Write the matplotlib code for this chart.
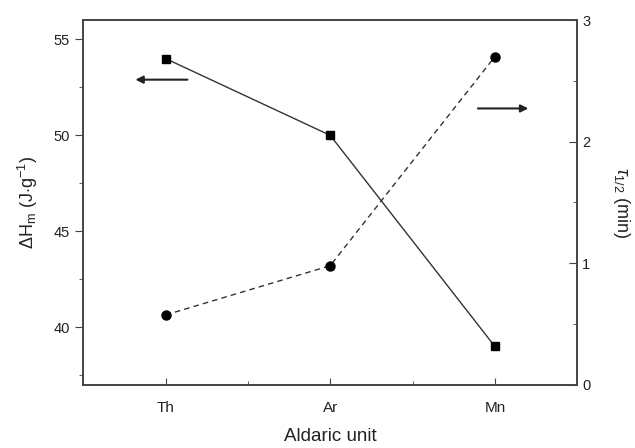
import matplotlib
matplotlib.use("Agg")
import matplotlib.pyplot as plt
from matplotlib.ticker import MultipleLocator

plt.rcParams['font.family'] = ['Liberation Sans', 'DejaVu Sans']
plt.rcParams['mathtext.fontset'] = 'custom'
plt.rcParams['mathtext.rm'] = 'Liberation Sans'
plt.rcParams['mathtext.it'] = 'Liberation Sans:italic'

units = ["Th", "Ar", "Mn"]
x_pos = [1, 2, 3]
dh_m = [54, 50, 39]          # J/g
t_half = [0.575, 0.98, 2.70]  # min

fig = plt.figure(figsize=(6.35, 4.48), dpi=100)
ax = fig.add_axes([0.131, 0.141, 0.778, 0.814])
ax2 = ax.twinx()

ax.plot(x_pos, dh_m, color="#333333", lw=1.0, marker="s", ms=5.5,
        mfc="black", mec="black")
ax2.plot(x_pos, t_half, color="#333333", lw=1.0, ls=(0, (4, 3)), marker="o",
         ms=6.5, mfc="black", mec="black")

ax.set_xlim(0.5, 3.5)
ax.set_ylim(37, 56)
ax2.set_ylim(0, 3)

ax.set_xticks(x_pos)
ax.set_xticklabels(units)
ax.xaxis.set_minor_locator(MultipleLocator(0.5))
ax.yaxis.set_major_locator(MultipleLocator(5))
ax.yaxis.set_minor_locator(MultipleLocator(2.5))
ax2.yaxis.set_major_locator(MultipleLocator(1))
ax2.yaxis.set_minor_locator(MultipleLocator(0.5))

ax.tick_params(axis="x", which="both", direction="in", labelsize=11, pad=12)
ax.tick_params(axis="x", which="major", length=5)
ax.tick_params(axis="x", which="minor", length=3)
ax.tick_params(axis="y", which="major", direction="out", length=6, labelsize=10.5)
ax.tick_params(axis="y", which="minor", direction="out", length=3)
ax2.tick_params(axis="y", which="major", direction="in", length=6, labelsize=10.5)
ax2.tick_params(axis="y", which="minor", direction="in", length=3)

for a in (ax, ax2):
    for s in a.spines.values():
        s.set_color("#444444")
        s.set_linewidth(1.2)
    a.tick_params(which="both", color="#444444", labelcolor="#222222")

ax.set_xlabel("Aldaric unit", fontsize=13.5, labelpad=9, color="#222222")
ax.set_ylabel(r"$\Delta$H$_{\rm m}$ (J$\cdot$g$^{-1}$)", fontsize=13,
              labelpad=10, color="#222222")
ax2.set_ylabel(r"$\tau_{1/2}$ (min)", fontsize=13, rotation=270,
               labelpad=30, color="#222222")

# arrows pointing to the axis each series belongs to
ax.annotate("", xy=(0.8, 52.9), xytext=(1.15, 52.9),
            arrowprops=dict(arrowstyle="-|>", color="#222222", lw=1.5,
                            mutation_scale=11))
ax.annotate("", xy=(3.22, 51.4), xytext=(2.88, 51.4),
            arrowprops=dict(arrowstyle="-|>", color="#222222", lw=1.5,
                            mutation_scale=11))

fig.savefig("out.png", dpi=100)
